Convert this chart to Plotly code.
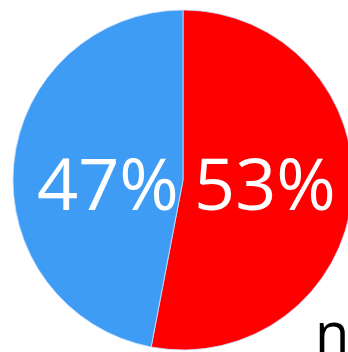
import plotly.graph_objects as go

labels = ["Red", "Blue"]
values = [53, 47]
colors = ["#ff0000", "#3f9cf5"]
legend_text = "na"

W, H = 360, 352

fig = go.Figure(go.Pie(
    labels=labels,
    values=values,
    sort=False,
    direction="clockwise",
    rotation=0,
    marker=dict(colors=colors, line=dict(color="rgba(200,225,255,0.8)", width=1)),
    textinfo="none",
    domain=dict(x=[13 / W, 353 / W], y=[2 / H, 342 / H]),
    showlegend=False,
    hoverinfo="none",
))

total = sum(values)
label_pos = [(265, 182), (108, 182)]  # pixel centres of the slice labels
for v, (px, py) in zip(values, label_pos):
    fig.add_annotation(
        text=f"{round(100 * v / total)}%", x=px / W, y=1 - py / H,
        xref="paper", yref="paper", xanchor="center", yanchor="middle",
        showarrow=False, font=dict(family="Open Sans", size=72, color="white"),
    )

fig.add_annotation(
    text=legend_text, x=313 / W, y=1 - 291 / H, xref="paper", yref="paper",
    xanchor="left", yanchor="top", showarrow=False,
    font=dict(family="Open Sans", size=56, color="black"),
)

fig.update_layout(
    width=W, height=H,
    margin=dict(l=0, r=0, t=0, b=0),
    paper_bgcolor="white", plot_bgcolor="white",
)

fig.write_html("out.html", post_script="document.body.style.overflow='hidden';document.body.style.margin='0';")
